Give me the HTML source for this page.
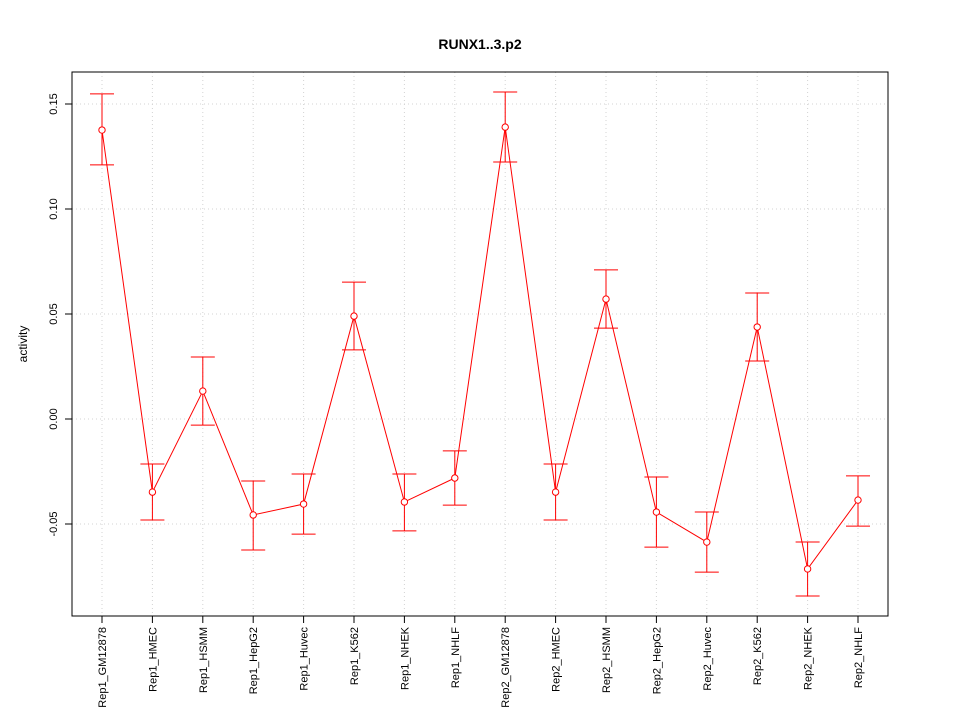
<!DOCTYPE html>
<html><head><meta charset="utf-8"><style>
body{margin:0;background:#fff;font-family:"Liberation Sans",sans-serif}
</style></head><body>
<svg id="chart" width="960" height="720" xmlns="http://www.w3.org/2000/svg" font-family="Liberation Sans, sans-serif">
<rect width="960" height="720" fill="#fff"/>
<text x="480" y="49" text-anchor="middle" font-size="14" font-weight="bold">RUNX1..3.p2</text>
<text transform="translate(27,344) rotate(-90)" text-anchor="middle" font-size="12">activity</text>
<g id="grid"></g><g id="axes"></g><g id="marks"></g>
<rect x="72" y="72" width="816" height="544" fill="none" stroke="#000"/>
</svg>
<script>
const categories=["Rep1_GM12878","Rep1_HMEC","Rep1_HSMM","Rep1_HepG2","Rep1_Huvec","Rep1_K562","Rep1_NHEK","Rep1_NHLF","Rep2_GM12878","Rep2_HMEC","Rep2_HSMM","Rep2_HepG2","Rep2_Huvec","Rep2_K562","Rep2_NHEK","Rep2_NHLF"];
const values=[0.1376,-0.0348,0.0133,-0.0457,-0.0405,0.049,-0.0395,-0.0281,0.139,-0.0348,0.0571,-0.0443,-0.0586,0.0438,-0.0714,-0.0386];
const upper=[0.1548,-0.0214,0.0295,-0.0295,-0.0262,0.0652,-0.0262,-0.0152,0.1557,-0.0214,0.071,-0.0276,-0.0443,0.06,-0.0586,-0.0271];
const lower=[0.121,-0.0481,-0.0029,-0.0624,-0.0548,0.0329,-0.0533,-0.041,0.1224,-0.0481,0.0433,-0.061,-0.0729,0.0276,-0.0843,-0.051];
const yTicks=[-0.05,0,0.05,0.10,0.15];
const yTickLabels=["-0.05","0.00","0.05","0.10","0.15"];
const NS="http://www.w3.org/2000/svg";
const x=i=>102+i*(858-102)/(categories.length-1);
const y=v=>419-v*2100;
function mk(t,a,p){const e=document.createElementNS(NS,t);for(const k in a)e.setAttribute(k,a[k]);p.appendChild(e);return e;}
const grid=document.getElementById('grid'),axes=document.getElementById('axes'),marks=document.getElementById('marks');
categories.forEach((c,i)=>{
 const g=mk('line',{x1:x(i),x2:x(i),y1:72,y2:616,stroke:'#d3d3d3','stroke-dasharray':'1,3'},grid);
 
 
 const t=mk('line',{x1:x(i),x2:x(i),y1:616,y2:623,stroke:'#000'},axes);
 
 
 const l=mk('text',{transform:`translate(${x(i)+4},627) rotate(-90)`,'text-anchor':'end','font-size':'11'},axes);
 l.textContent=c;
 
 
});
yTicks.forEach((v,i)=>{
 const g=mk('line',{x1:72,x2:888,y1:y(v),y2:y(v),stroke:'#d3d3d3','stroke-dasharray':'1,3'},grid);
 
 
 const t=mk('line',{x1:65,x2:72,y1:y(v),y2:y(v),stroke:'#000'},axes);
 
 
 const l=mk('text',{transform:`translate(57,${y(v)}) rotate(-90)`,'text-anchor':'middle','font-size':'11'},axes);
 l.textContent=yTickLabels[i];
 
 
});
const pl=mk('polyline',{points:values.map((v,i)=>x(i)+','+y(v)).join(' '),fill:'none',stroke:'#ff0000'},marks);


values.forEach((v,i)=>{
 const e=mk('path',{d:`M${x(i)},${y(upper[i])}V${y(lower[i])}M${x(i)-12},${y(upper[i])}H${x(i)+12}M${x(i)-12},${y(lower[i])}H${x(i)+12}`,stroke:'#ff0000',fill:'none'},marks);
 
 
 const p=mk('circle',{cx:x(i),cy:y(v),r:3.2,fill:'#fff',stroke:'#ff0000'},marks);
 
 
});
</script>
</body></html>
